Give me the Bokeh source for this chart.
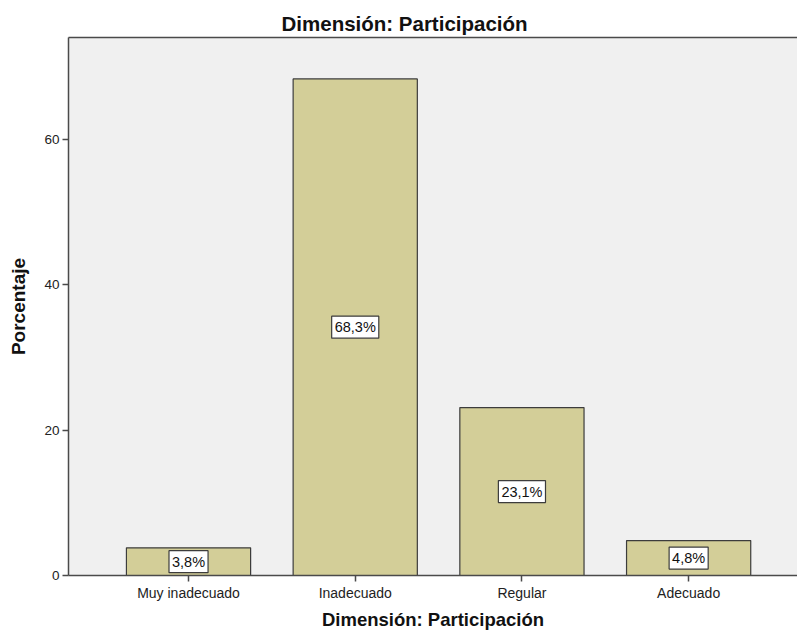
from bokeh.plotting import figure
from bokeh.models import Range1d, FixedTicker, LinearAxis, Label, Title
from bokeh.embed import file_html
from bokeh.resources import INLINE

categories = ["Muy inadecuado", "Inadecuado", "Regular", "Adecuado"]
percentages = [3.8, 68.3, 23.1, 4.8]
y_ticks = [0, 20, 40, 60]
chart_title = "Dimensión: Participación"

FONT = "Liberation Sans"
BAR = "#d3ce98"
EDGE = "#3c3c3c"
AXIS = "#4a4a4a"

xs = list(range(len(categories)))
Y_MAX = 74

p = figure(width=797, height=632, output_backend="svg", toolbar_location=None,
           x_range=Range1d(-0.72, 3.653), y_range=Range1d(0, Y_MAX),
           min_border_left=68, min_border_right=0, min_border_top=37,
           min_border_bottom=57, background_fill_color="#f0f0f0",
           border_fill_color="white", outline_line_color=None)

p.title = Title(text=chart_title, align="left", offset=213, standoff=6,
                text_font=FONT, text_font_size="20.5px", text_font_style="bold",
                text_color="#111111")

p.vbar(x=xs, top=percentages, width=0.745, bottom=0, fill_color=BAR,
       line_color=EDGE, line_width=1.2)

# value boxes at mid-height of each bar
for x, v in zip(xs, percentages):
    p.add_layout(Label(x=x, y=v / 2, text=f"{v:.1f}".replace(".", ",") + "%",
                       text_align="center", text_baseline="middle",
                       text_font=FONT, text_font_size="14.5px", text_color="#111111",
                       background_fill_color="white", border_line_color=EDGE,
                       border_line_width=1.2, padding=3))

p.xgrid.visible = False
p.ygrid.visible = False

xa = p.xaxis[0]
xa.ticker = FixedTicker(ticks=xs)
xa.major_label_overrides = {i: c for i, c in enumerate(categories)}
xa.axis_label = "Dimensión: Participación"

ya = p.yaxis[0]
ya.ticker = FixedTicker(ticks=y_ticks)
ya.axis_label = "Porcentaje"

for ax in (xa, ya):
    ax.axis_line_color = AXIS
    ax.axis_line_width = 1.5
    ax.major_tick_line_color = AXIS
    ax.major_tick_line_width = 1.5
    ax.major_tick_in = 0
    ax.major_tick_out = 6
    ax.minor_tick_line_color = None
    ax.major_label_text_font = FONT
    ax.major_label_text_color = "#222222"
    ax.axis_label_text_font = FONT
    ax.axis_label_text_font_style = "bold"
    ax.axis_label_text_color = "#111111"

xa.major_label_text_font_size = "14px"
ya.major_label_text_font_size = "13.5px"
xa.axis_label_text_font_size = "18.5px"
ya.axis_label_text_font_size = "19px"
xa.major_label_standoff = 3
xa.axis_label_standoff = 5
ya.major_label_standoff = 3
ya.axis_label_standoff = 12

# top border of the plotting area
top = LinearAxis(ticker=FixedTicker(ticks=[]), axis_line_color=AXIS,
                 axis_line_width=1.5, major_label_text_font_size="0px",
                 minor_tick_line_color=None, major_tick_line_color=None)
p.add_layout(top, "above")

open("out.html", "w").write(file_html(p, INLINE))
